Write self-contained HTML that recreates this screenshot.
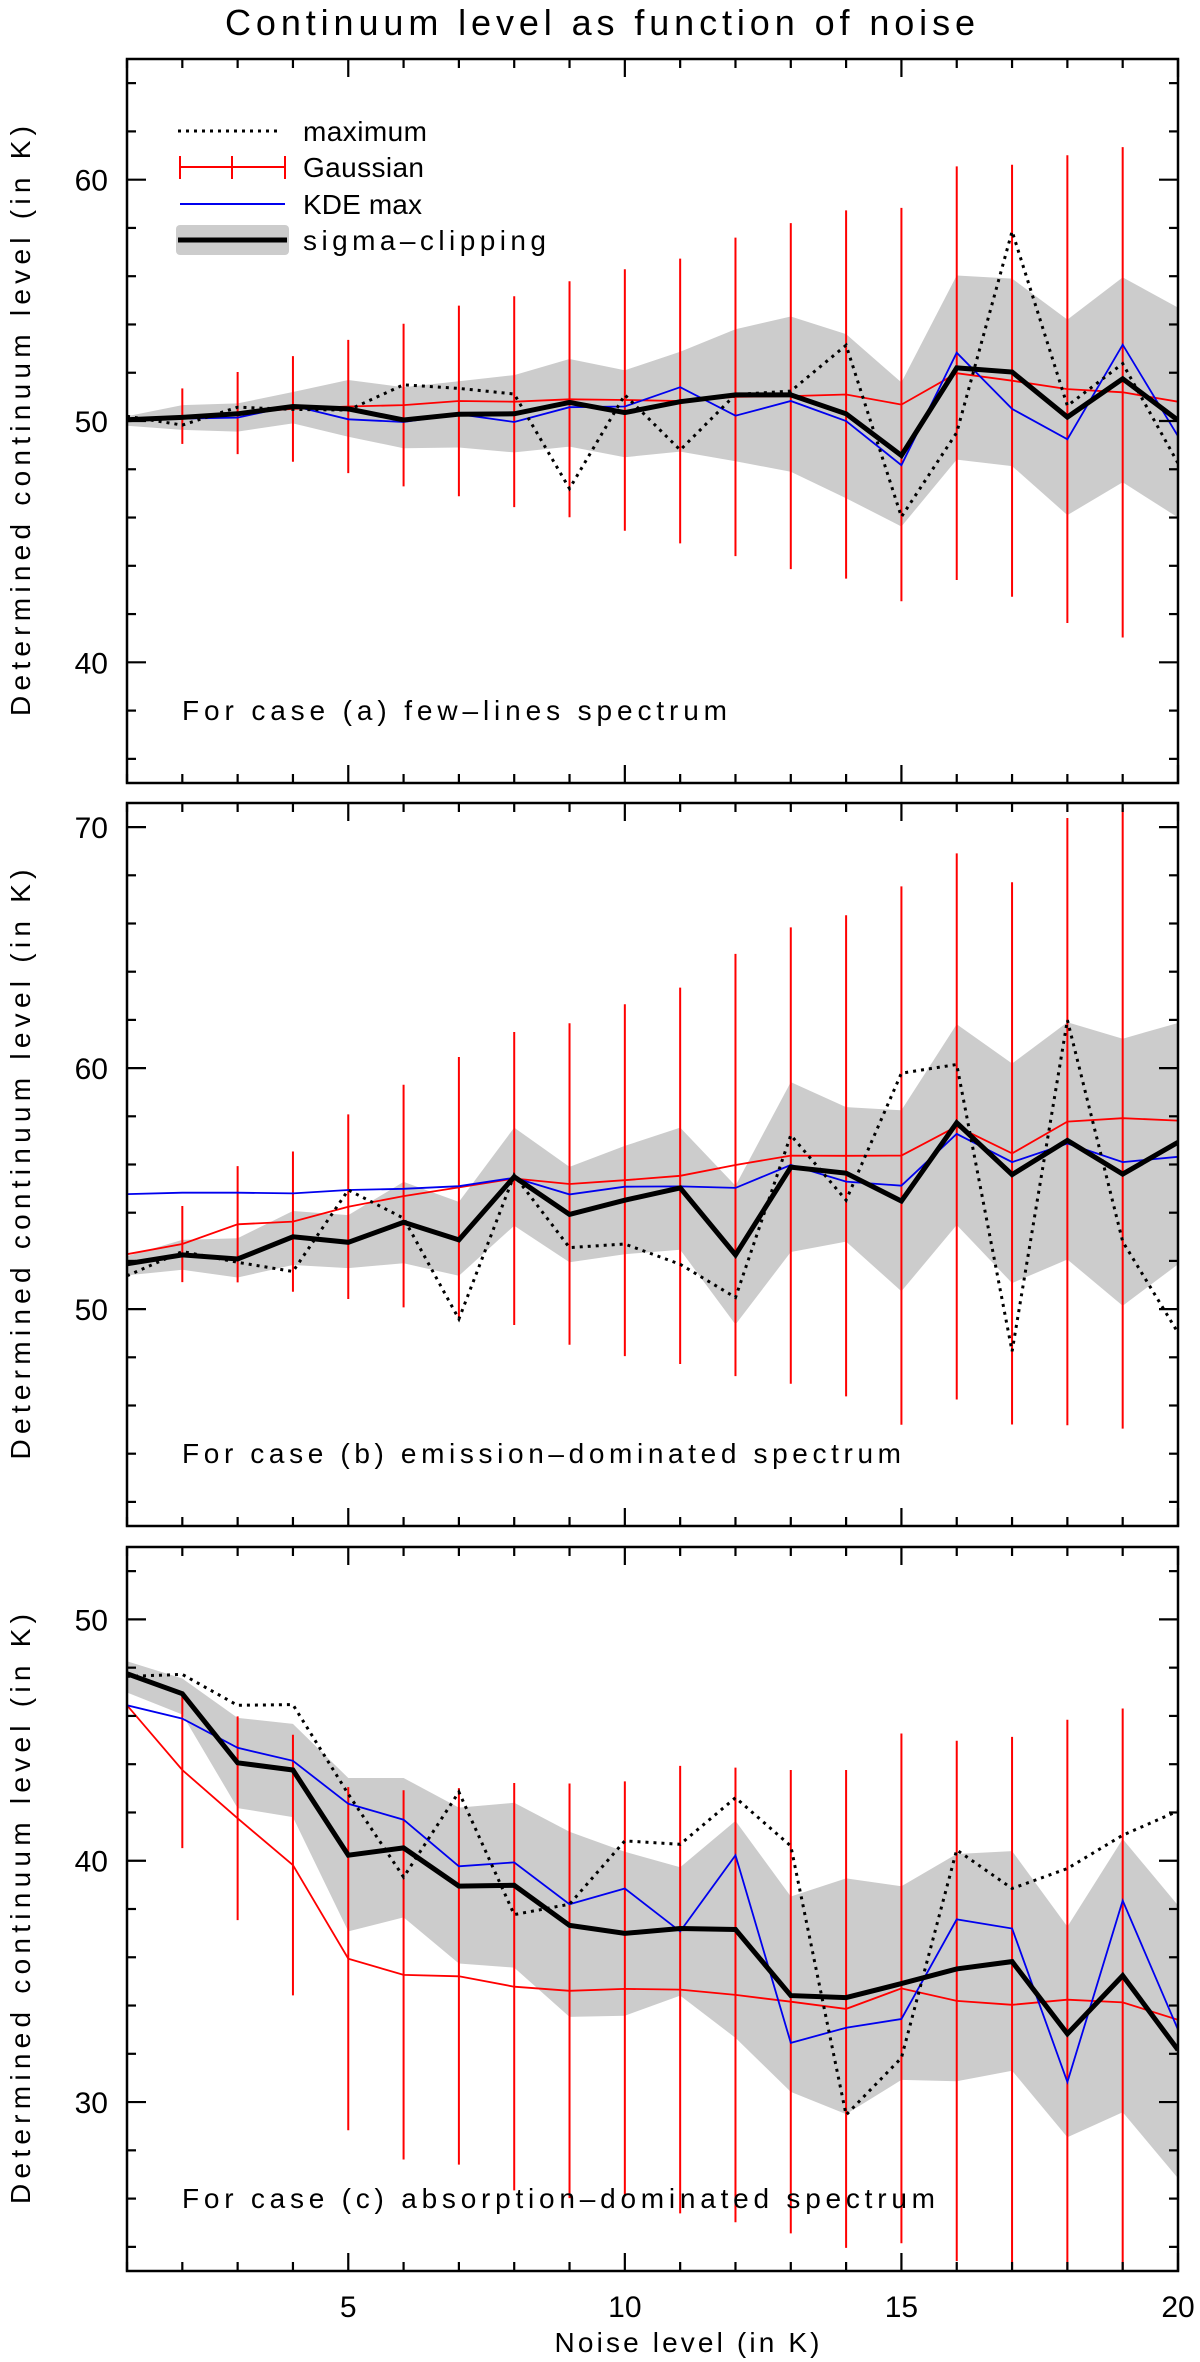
<!DOCTYPE html>
<html><head><meta charset="utf-8"><style>
html,body{margin:0;padding:0;background:#fff;}
svg{display:block;font-family:"Liberation Sans",sans-serif;}
</style></head><body>
<svg id="chart" width="1200" height="2362" viewBox="0 0 1200 2362" xmlns="http://www.w3.org/2000/svg">
<text x="600" y="35" font-size="36" text-anchor="middle" fill="#000" textLength="750" lengthAdjust="spacing">Continuum level as function of noise</text>
<text x="687" y="2352" font-size="28" text-anchor="middle" fill="#000" textLength="265" lengthAdjust="spacing">Noise level (in K)</text>
</svg>
<script>
// ---- data ----
const noise = [1,2,3,4,5,6,7,8,9,10,11,12,13,14,15,16,17,18,19,20];

const aSigma = [50.05,50.15,50.3,50.6,50.5,50.04,50.28,50.3,50.77,50.35,50.8,51.08,51.08,50.3,48.57,52.2,52.03,50.16,51.75,50.03];
const aSigmaHi = [50.2,50.66,50.73,51.2,51.7,51.4,51.65,51.9,52.57,52.1,52.87,53.8,54.33,53.6,51.6,56.03,55.9,54.2,55.95,54.7];
const aSigmaLo = [49.8,49.63,49.56,49.9,49.35,48.87,48.9,48.7,48.94,48.5,48.73,48.33,47.9,46.8,45.63,48.4,48.13,46.1,47.46,46.0];
const aGauss = [50.07,50.2,50.33,50.5,50.6,50.66,50.83,50.8,50.9,50.87,50.83,51.0,51.03,51.1,50.68,51.98,51.67,51.32,51.19,50.8];
const aGaussErr = [0.5,1.15,1.7,2.19,2.76,3.37,3.95,4.37,4.89,5.42,5.9,6.6,7.17,7.63,8.15,8.57,8.95,9.69,10.16,10.5];
const aKde = [50.07,50.1,50.14,50.63,50.07,49.96,50.28,49.96,50.57,50.6,51.4,50.22,50.83,50.0,48.17,52.83,50.5,49.24,53.16,49.37];
const aMax = [50.2,49.83,50.57,50.48,50.45,51.5,51.35,51.12,47.2,51.08,48.8,51.1,51.24,53.14,46.03,49.52,57.86,50.63,52.38,48.25];

const bSigma = [51.88,52.25,52.08,53.0,52.77,53.6,52.87,55.49,53.93,54.52,55.03,52.25,55.89,55.64,54.48,57.73,55.58,57.0,55.6,56.92];
const bSigmaHi = [52.2,52.87,52.94,54.07,53.9,55.28,54.45,57.53,55.9,56.77,57.53,55.12,59.42,58.38,58.25,61.82,60.19,61.9,61.22,61.87];
const bSigmaLo = [51.4,51.63,51.31,51.83,51.7,51.9,51.38,53.46,51.94,52.28,52.46,49.36,52.37,52.8,50.74,53.49,51.08,52.06,50.14,51.86];
const bGauss = [52.28,52.7,53.52,53.63,54.25,54.69,55.05,55.42,55.19,55.35,55.53,55.98,56.37,56.36,56.37,57.58,56.46,57.78,57.92,57.82];
const bGaussErr = [0.5,1.58,2.41,2.91,3.83,4.62,5.41,6.08,6.67,7.3,7.81,8.76,9.47,9.98,11.17,11.33,11.25,12.6,12.88,13.0];
const bKde = [54.77,54.83,54.83,54.8,54.94,54.99,55.1,55.45,54.76,55.08,55.09,55.03,55.98,55.29,55.12,57.27,56.1,56.87,56.1,56.32];
const bMax = [51.38,52.39,51.94,51.56,54.94,53.77,49.59,55.56,52.55,52.7,51.86,50.48,57.22,54.52,59.79,60.15,48.25,61.99,52.8,49.02];

const cSigma = [47.75,46.92,44.06,43.76,40.23,40.53,38.95,38.98,37.32,36.99,37.19,37.15,34.41,34.33,34.91,35.52,35.82,32.83,35.24,32.16];
const cSigmaHi = [48.27,47.55,45.92,45.67,43.43,43.43,42.2,42.4,41.2,40.37,39.73,41.65,38.52,39.27,38.94,40.28,40.4,37.27,40.9,38.15];
const cSigmaLo = [46.97,46.06,42.18,41.81,37.07,37.65,35.74,35.57,33.53,33.58,34.41,32.66,30.42,29.5,30.92,30.86,31.3,28.54,29.58,26.84];
const cGauss = [46.44,43.76,41.76,39.82,35.94,35.27,35.21,34.78,34.61,34.69,34.66,34.44,34.16,33.86,34.71,34.19,34.03,34.24,34.13,33.41];
const cGaussErr = [0.3,3.24,4.22,5.4,7.11,7.65,7.8,8.44,8.59,8.6,9.27,9.42,9.6,9.9,10.56,10.78,11.1,11.6,12.18,12.5];
const cKde = [46.44,45.89,44.68,44.14,42.36,41.7,39.77,39.93,38.2,38.85,37.07,40.23,32.45,33.08,33.44,37.57,37.19,30.83,38.35,33.0];
const cMax = [47.64,47.72,46.44,46.47,42.76,39.32,42.85,37.77,38.2,40.82,40.68,42.61,40.61,29.47,31.83,40.45,38.85,39.68,41.06,42.06];

const xTickLabels = ["5","10","15","20"];
const aYTickLabels = ["40","50","60"];
const bYTickLabels = ["50","60","70"];
const cYTickLabels = ["30","40","50"];

// ---- layout ----
const svg = document.getElementById('chart');
const NS = 'http://www.w3.org/2000/svg';
const X0 = 127, X1 = 1178;
function xs(v){ return X0 + (v-1)/19*(X1-X0); }
function mk(tag, attrs, parent){
  const e = document.createElementNS(NS, tag);
  for (const k in attrs) e.setAttribute(k, attrs[k]);
  (parent||svg).appendChild(e);
  return e;
}
function pathFrom(xsArr, ysArr, ys){
  return xsArr.map((x,i)=>(i?'L':'M')+xs(x).toFixed(1)+','+ys(ysArr[i]).toFixed(1)).join(' ');
}

function panel(key, top, bottom, ymin, ymax, sig, hi, lo, gau, err, kde, mx, yLabels, caption, capLen, showX){
  const g = mk('g', {});
  
  
  const ys = v => bottom - (v-ymin)/(ymax-ymin)*(bottom-top);
  const clipId = 'clip-'+key;
  const cp = mk('clipPath', {id: clipId}, g);
  mk('rect', {x:X0, y:top, width:X1-X0, height:bottom-top}, cp);
  const d = mk('g', {'clip-path':'url(#'+clipId+')'}, g);

  let bp = noise.map((x,i)=>(i?'L':'M')+xs(x).toFixed(1)+','+ys(hi[i]).toFixed(1)).join(' ');
  for (let i=noise.length-1;i>=0;i--) bp += ' L'+xs(noise[i]).toFixed(1)+','+ys(lo[i]).toFixed(1);
  const band = mk('path', {d: bp+' Z', fill:'#cccccc', stroke:'none'}, d);
  
  

  noise.forEach((x,i)=>{
    const b = mk('line', {x1:xs(x), x2:xs(x), y1:ys(gau[i]+err[i]), y2:ys(gau[i]-err[i]), stroke:'#ff0000', 'stroke-width':2}, d);
    
    
  });
  const gl = mk('path', {d:pathFrom(noise,gau,ys), fill:'none', stroke:'#ff0000', 'stroke-width':1.8}, d);
  
  
  const kl = mk('path', {d:pathFrom(noise,kde,ys), fill:'none', stroke:'#0000ee', 'stroke-width':1.8}, d);
  
  
  const ml = mk('path', {d:pathFrom(noise,mx,ys), fill:'none', stroke:'#000', 'stroke-width':3, 'stroke-dasharray':'3,5'}, d);
  
  
  const sl = mk('path', {d:pathFrom(noise,sig,ys), fill:'none', stroke:'#000', 'stroke-width':5, 'stroke-linejoin':'miter'}, d);
  
  

  const fr = mk('rect', {x:X0, y:top, width:X1-X0, height:bottom-top, fill:'none', stroke:'#000', 'stroke-width':2.5}, g);
  
  

  const tg = mk('g', {stroke:'#000', 'stroke-width':2.2}, g);
  
  
  for (let v=1; v<=20; v++){
    const L = v%5===0 ? 18 : 9;
    mk('line', {x1:xs(v), x2:xs(v), y1:bottom, y2:bottom-L}, tg);
    mk('line', {x1:xs(v), x2:xs(v), y1:top, y2:top+L}, tg);
  }
  for (let v=Math.ceil(ymin/2)*2; v<=ymax; v+=2){
    const L = v%10===0 ? 19 : 9;
    mk('line', {x1:X0, x2:X0+L, y1:ys(v), y2:ys(v)}, tg);
    mk('line', {x1:X1, x2:X1-L, y1:ys(v), y2:ys(v)}, tg);
  }
  yLabels.forEach(lbl=>{
    const t = mk('text', {x:108, y:ys(+lbl)+11, 'font-size':30, 'text-anchor':'end', fill:'#000'}, g);
    t.textContent = lbl;
    
    
  });
  if (showX){
    xTickLabels.forEach(lbl=>{
      const t = mk('text', {x:xs(+lbl), y:bottom+46, 'font-size':30, 'text-anchor':'middle', fill:'#000'}, g);
      t.textContent = lbl;
      
      
    });
  }
  const yt = mk('text', {x:0, y:0, 'font-size':28, 'text-anchor':'middle', fill:'#000', textLength:590, lengthAdjust:'spacing', transform:'translate(30,'+((top+bottom)/2)+') rotate(-90)'}, g);
  yt.textContent = 'Determined continuum level (in K)';
  
  
  const cap = mk('text', {x:182, y:bottom-63, 'font-size':28, fill:'#000', textLength:capLen, lengthAdjust:'spacing'}, g);
  cap.textContent = caption;
  
  
}

panel('a', 59, 783, 35, 65, aSigma, aSigmaHi, aSigmaLo, aGauss, aGaussErr, aKde, aMax, aYTickLabels, 'For case (a) few\u2013lines spectrum', 545, false);
panel('b', 803, 1526, 41, 71, bSigma, bSigmaHi, bSigmaLo, bGauss, bGaussErr, bKde, bMax, bYTickLabels, 'For case (b) emission\u2013dominated spectrum', 719, false);
panel('c', 1547, 2271, 23, 53, cSigma, cSigmaHi, cSigmaLo, cGauss, cGaussErr, cKde, cMax, cYTickLabels, 'For case (c) absorption\u2013dominated spectrum', 753, true);

// legend
const lg = mk('g', {});


mk('line', {x1:178, x2:282, y1:131, y2:131, stroke:'#000', 'stroke-width':3, 'stroke-dasharray':'3,5'}, lg);
mk('line', {x1:180, x2:285, y1:167, y2:167, stroke:'#ff0000', 'stroke-width':2}, lg);
[180,232,285].forEach(x=>mk('line', {x1:x, x2:x, y1:156, y2:179, stroke:'#ff0000', 'stroke-width':2}, lg));
mk('line', {x1:180, x2:285, y1:204, y2:204, stroke:'#0000ee', 'stroke-width':2}, lg);
mk('rect', {x:176, y:225, width:113, height:30, rx:4, fill:'#cccccc'}, lg);
mk('line', {x1:178, x2:287, y1:240, y2:240, stroke:'#000', 'stroke-width':5}, lg);
const legendNames = ['maximum','Gaussian','KDE max','sigma\u2013clipping'];
const legendY = [131,167,204,240];
const legendLen = [124,121,119,243];
legendNames.forEach((n,i)=>{
  const t = mk('text', {x:303, y:legendY[i]+10, 'font-size':28, fill:'#000', textLength:legendLen[i], lengthAdjust:'spacing'}, lg);
  t.textContent = n;
  
  
});
</script>
</body></html>
